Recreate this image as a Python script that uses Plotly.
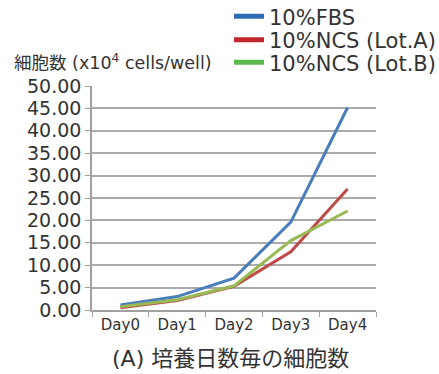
import plotly.graph_objects as go

days = ["Day0", "Day1", "Day2", "Day3", "Day4"]
fbs = [1.1, 3.0, 7.1, 19.6, 45.2]
ncs_a = [0.5, 2.1, 5.3, 13.0, 27.0]
ncs_b = [0.7, 2.3, 5.4, 15.5, 22.1]
series_names = ["10%FBS", "10%NCS (Lot.A)", "10%NCS (Lot.B)"]
line_colors = ["#4A7EBB", "#BE4B48", "#98B954"]
legend_colors = ["#2E6BB5", "#C1272D", "#5CB84F"]
y_ticks = [0, 5, 10, 15, 20, 25, 30, 35, 40, 45, 50]

FONT = "DejaVu Sans, Noto Sans CJK JP"
TXT = "#333333"
W, H = 439, 374
ML, MR, MT, MB = 92, 63, 86, 64
PW, PH = W - ML - MR, H - MT - MB
legend_ids = ["legend", "legend2", "legend3"]
legend_rows_px = [16.7, 40.0, 62.7]


def px_x(px):
    return (px - ML) / PW


def px_y(py):
    return (H - MB - py) / PH


fig = go.Figure()
for name, vals, lc, gc, lid in zip(series_names, [fbs, ncs_a, ncs_b], line_colors, legend_colors, legend_ids):
    fig.add_trace(go.Scatter(x=days, y=vals, mode="lines", name=name,
                             line=dict(color=lc, width=3), showlegend=False))
    fig.add_trace(go.Scatter(x=[days[0]], y=[None], mode="lines", name=name,
                             line=dict(color=gc, width=5), showlegend=True, legend=lid))

legend_layout = {}
for lid, ypx in zip(legend_ids, legend_rows_px):
    legend_layout[lid] = dict(xref="container", yref="container",
                              x=229 / W, y=1 - ypx / H,
                              xanchor="left", yanchor="middle",
                              font=dict(size=21, family=FONT, color=TXT),
                              bgcolor="rgba(0,0,0,0)", borderwidth=0)

fig.update_layout(
    width=W, height=H,
    margin=dict(l=ML, r=MR, t=MT, b=MB, autoexpand=False),
    paper_bgcolor="white", plot_bgcolor="white",
    font=dict(family=FONT, color=TXT),
    xaxis=dict(type="category", range=[-0.5, 4.5], tickson="boundaries",
               ticks="outside", ticklen=5, tickcolor="#A0A0A0", tickangle=0,
               showline=True, linecolor="#A0A0A0", linewidth=1.5,
               showgrid=False, tickfont=dict(size=15, family=FONT, color=TXT)),
    yaxis=dict(range=[0, 50], tickvals=y_ticks, tickformat=".2f",
               ticks="outside", ticklen=5, tickcolor="#A0A0A0",
               showline=True, linecolor="#A0A0A0", linewidth=1.5,
               showgrid=True, gridcolor="#AAAAAA", gridwidth=1.5,
               tickfont=dict(size=19, family=FONT, color=TXT)),
    annotations=[
        dict(text="細胞数 (x10<sup>4</sup> cells/well)", xref="paper", yref="paper",
             x=px_x(12), y=px_y(62), xanchor="left", yanchor="middle", showarrow=False,
             font=dict(size=17.5, family=FONT, color=TXT)),
        dict(text="(A) 培養日数毎の細胞数", xref="paper", yref="paper",
             x=px_x(230), y=px_y(358), xanchor="center", yanchor="middle", showarrow=False,
             font=dict(size=22, family=FONT, color=TXT)),
    ],
    **legend_layout,
)
fig.write_html("out.html", config={"displayModeBar": False},
               post_script="document.body.style.margin='0';document.body.style.padding='0';")
